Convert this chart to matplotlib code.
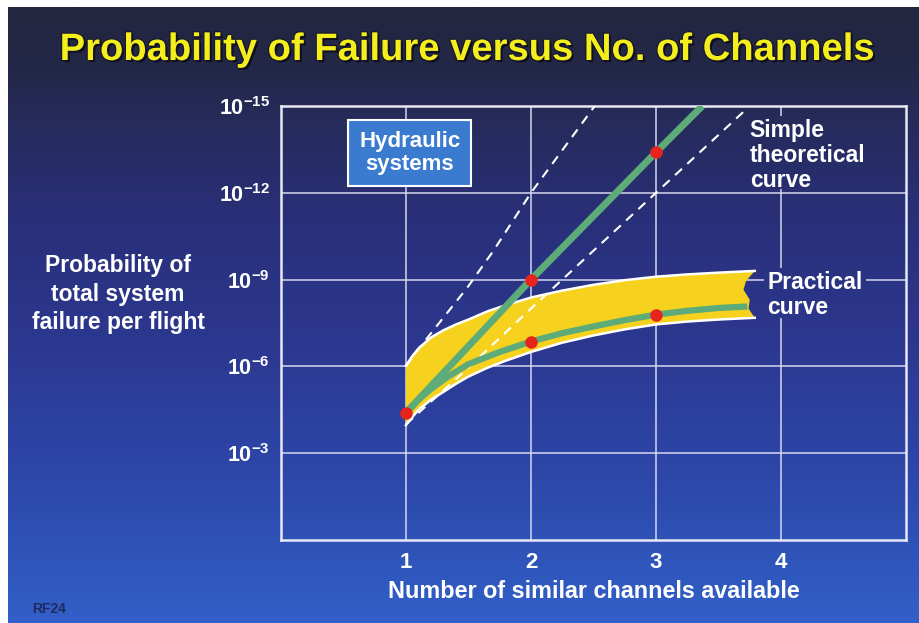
import numpy as np
import matplotlib
matplotlib.use("Agg")
import matplotlib.pyplot as plt
import matplotlib.patheffects as pe
from matplotlib import font_manager
from matplotlib.colors import LinearSegmentedColormap
from matplotlib.ticker import NullLocator
from matplotlib.transforms import Bbox

# values are stored as decades below 1, i.e. P = 10**-exp
channels = [1, 2, 3, 4]
ytick_exp = [3, 6, 9, 12, 15]

# simple theoretical curve (straight in log space) and its spread
theory_x = [1.0, 2.0, 3.0, 3.37]
theory_exp = [4.4, 9.0, 13.4, 15.0]
spread_hi_x = [1.0, 1.09, 1.49, 1.7, 2.0, 2.51]
spread_hi_exp = [6.0, 6.55, 8.72, 10.0, 12.0, 15.0]
spread_lo_x = [1.0, 1.41, 2.0, 2.5, 3.0, 3.7]
spread_lo_exp = [4.0, 5.6, 8.0, 10.0, 12.0, 14.8]

# practical curve and its band
practical_x = [1.0, 1.1, 1.2, 1.33, 1.5, 1.75, 2.0, 2.25, 2.5, 2.75, 3.0, 3.25, 3.5, 3.73]
practical_exp = [4.4, 4.85, 5.22, 5.63, 6.08, 6.5, 6.86, 7.15, 7.38, 7.6, 7.79, 7.92, 8.02, 8.07]
band_x = [1.0, 1.05, 1.1, 1.2, 1.3, 1.4, 1.5, 1.65, 1.8, 2.0, 2.25, 2.5, 2.75, 3.0, 3.25, 3.5, 3.79]
band_upper_exp = [6.03, 6.35, 6.62, 7.0, 7.25, 7.45, 7.62, 7.9, 8.12, 8.38, 8.62, 8.82, 8.98,
                  9.1, 9.18, 9.24, 9.3]
band_lower_exp = [3.97, 4.25, 4.5, 4.85, 5.12, 5.4, 5.65, 5.95, 6.2, 6.5, 6.82, 7.07, 7.28,
                  7.45, 7.55, 7.62, 7.68]
# torn right-hand end of the band, top to bottom
band_end_x = [3.79, 3.72, 3.70, 3.75, 3.74, 3.81]
band_end_exp = [9.3, 8.95, 8.65, 8.3, 8.0, 7.68]

# marked points
theory_pts_x = [1, 2, 3]
theory_pts_exp = [4.4, 9.0, 13.4]
practical_pts_x = [2, 3]
practical_pts_exp = [6.86, 7.79]


def prob(exps):
    return 10.0 ** -np.asarray(exps, dtype=float)


names = {f.name for f in font_manager.fontManager.ttflist}
if "Liberation Sans Narrow" in names:
    title_font, title_size = "Liberation Sans Narrow", 31
else:
    title_font, title_size = "Liberation Sans", 27.5

plt.rcParams["font.family"] = ["Liberation Sans", "DejaVu Sans"]
plt.rcParams["font.weight"] = "bold"
plt.rcParams["mathtext.fontset"] = "custom"
plt.rcParams["mathtext.default"] = "rm"
plt.rcParams["mathtext.rm"] = "Liberation Sans:bold"
plt.rcParams["mathtext.bf"] = "Liberation Sans:bold"

W, H = 919, 623
TOP_MARGIN, LEFT_MARGIN = 7, 8
fig = plt.figure(figsize=(W / 100, H / 100), dpi=100, facecolor="white")

# slide background: dark navy at the top fading to bright blue
bg_cmap = LinearSegmentedColormap.from_list("slide", [
    (0.0, "#23263f"), (0.10, "#242848"), (0.18, "#262b5a"),
    (0.35, "#29307a"), (0.55, "#2c3890"), (0.75, "#2d46a8"),
    (0.90, "#2f55bb"), (1.0, "#3260c8")])
gradient = np.linspace(0, 1, 256).reshape(-1, 1)
bg_extent = [LEFT_MARGIN / W, 1, 0, 1 - TOP_MARGIN / H]
bg = fig.add_axes([bg_extent[0], 0, 1 - bg_extent[0], bg_extent[3]], zorder=-10)
bg.imshow(gradient, aspect="auto", cmap=bg_cmap, extent=bg_extent)
bg.set_xlim(bg_extent[0], 1)
bg.set_ylim(0, bg_extent[3])
bg.set_axis_off()

ax = fig.add_axes([281 / W, 83 / H, 625 / W, 434 / H])
ax.patch.set_alpha(0)
ax.set_xlim(0, 5)
ax.set_yscale("log")
ax.set_ylim(1, 1e-15)

ax.set_xticks(channels)
ax.set_xticklabels([str(c) for c in channels])
ax.set_yticks(prob(ytick_exp))
ax.set_yticklabels([r"$10^{-%d}$" % e for e in ytick_exp])
ax.yaxis.set_minor_locator(NullLocator())
ax.tick_params(axis="both", length=0, colors="white")
ax.tick_params(axis="x", labelsize=16, pad=9)
ax.tick_params(axis="y", labelsize=15.5, pad=8)
for sp in ax.spines.values():
    sp.set_color("#e8e8f4")
    sp.set_linewidth(1.8)
ax.grid(True, color="#d8daf0", linewidth=1.2, alpha=0.9)
ax.set_axisbelow(True)

# practical band with white edges
poly_x = list(band_x) + band_end_x[1:-1] + list(band_x[::-1])
poly_y = list(band_upper_exp) + band_end_exp[1:-1] + list(band_lower_exp[::-1])
ax.fill(poly_x, prob(poly_y), color="#f6d21e", lw=0, zorder=2)
ax.plot(band_x, prob(band_upper_exp), color="white", lw=1.8, zorder=2.5)
ax.plot(band_x, prob(band_lower_exp), color="white", lw=1.8, zorder=2.5)

# theoretical spread
for xs, es in [(spread_hi_x, spread_hi_exp), (spread_lo_x, spread_lo_exp)]:
    ax.plot(xs, prob(es), color="white", lw=1.5, dashes=(4.5, 3.5), zorder=3)

green = "#5dab78"
ax.plot(theory_x, prob(theory_exp), color=green, lw=5, solid_capstyle="butt", zorder=4)
ax.plot(practical_x, prob(practical_exp), color=green, lw=4.5, solid_capstyle="butt",
        solid_joinstyle="round", zorder=4)
ax.plot(theory_pts_x, prob(theory_pts_exp), "o", color="#e8231c", ms=9, mec="none", zorder=5)
ax.plot(practical_pts_x, prob(practical_pts_exp), "o", color="#e8231c", ms=9, mec="none", zorder=5)

# annotations (figure-level so they sit above the grid covers)
ax.text(1.03, prob(13.38), "Hydraulic\nsystems", color="white", fontsize=16,
        ha="center", va="center", linespacing=1.1, zorder=6,
        bbox=dict(boxstyle="square,pad=0.5", fc="#3a7bd0", ec="white", lw=1.5))
simple_lbl = fig.text(3.75, prob(13.28), "Simple\ntheoretical\ncurve", color="white",
                      fontsize=16.5, ha="left", va="center", linespacing=1.1,
                      transform=ax.transData, zorder=6)
practical_lbl = fig.text(3.89, prob(8.48), "Practical\ncurve", color="white",
                         fontsize=16.5, ha="left", va="center", linespacing=1.1,
                         transform=ax.transData, zorder=6)


def cover_grid(txt, pad=3, bottom_trim=0):
    # patch of the slide background behind a label, hiding the grid there
    fig.canvas.draw()
    ext = txt.get_window_extent()
    bb = Bbox.from_extents(ext.x0 - pad, ext.y0 + bottom_trim, ext.x1 + pad, ext.y1 + pad)
    bb = bb.transformed(fig.transFigure.inverted())
    cov = fig.add_axes(bb.bounds, zorder=1)
    cov.imshow(gradient, aspect="auto", cmap=bg_cmap, extent=bg_extent)
    cov.set_xlim(bb.x0, bb.x1)
    cov.set_ylim(bb.y0, bb.y1)
    cov.set_axis_off()


cover_grid(simple_lbl, bottom_trim=3)
cover_grid(practical_lbl, bottom_trim=1)

fig.text(0.509, 1 - 50 / H, "Probability of Failure versus No. of Channels",
         family=[title_font, "DejaVu Sans"], fontsize=title_size, weight="bold",
         color="#f4ee1c", ha="center", va="center",
         path_effects=[pe.withSimplePatchShadow(offset=(1.5, -1.5), shadow_rgbFace="#0c0c18", alpha=0.9),
                       pe.withStroke(linewidth=1.5, foreground="#15152a")])
fig.text(118 / W, 1 - 294 / H, "Probability of\ntotal system\nfailure per flight",
         color="white", fontsize=16.5, ha="center", va="center", linespacing=1.3)
fig.text(594 / W, 1 - 591 / H, "Number of similar channels available",
         color="white", fontsize=16.8, ha="center", va="center")
fig.text(49 / W, 1 - 609 / H, "RF24", color="#1f2a60", fontsize=10, ha="center", va="center")

fig.savefig("out.png", dpi=100, facecolor=fig.get_facecolor())
